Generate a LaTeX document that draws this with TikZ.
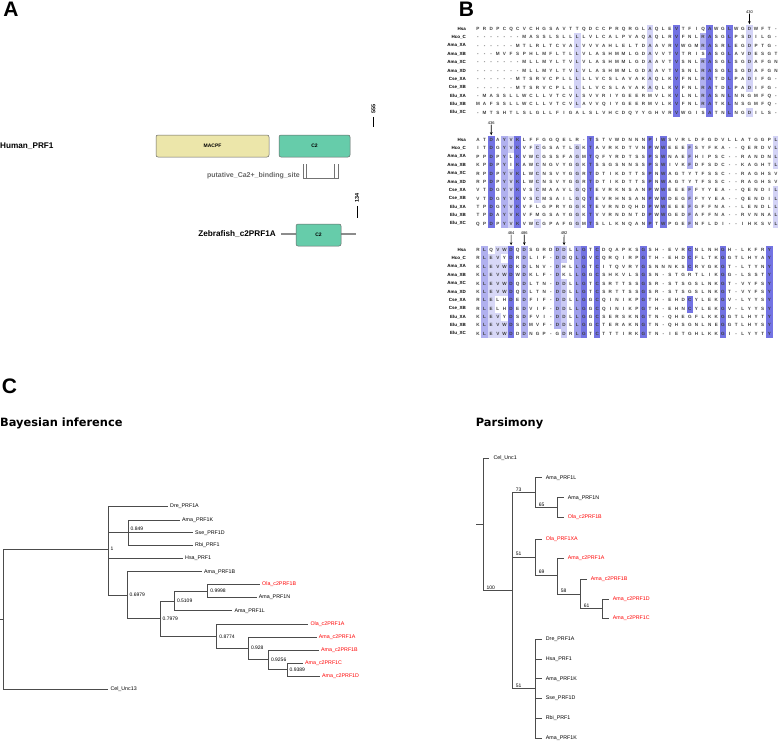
\documentclass[tikz,border=0pt]{standalone}
\usepackage{fontspec}
\setmainfont{Liberation Sans}
\newfontfamily\headfont{DejaVu Sans}
\usetikzlibrary{arrows.meta}

\definecolor{alnblue}{RGB}{80,80,220}
\definecolor{macpfcol}{RGB}{236,230,170}
\definecolor{c2col}{RGB}{102,204,170}
\definecolor{treered}{RGB}{255,0,0}

\tikzset{
  panel/.style={font=\fontsize{21}{21}\selectfont\bfseries, inner sep=0pt},
  heading/.style={font=\headfont\fontsize{11.4}{12}\selectfont\bfseries, inner sep=0pt, anchor=west},
  protname/.style={font=\fontsize{8.2}{9}\selectfont\bfseries, inner sep=0pt},
  dom/.style={draw=black!60, rounded corners=2pt, line width=0.5pt, minimum height=22pt, inner sep=0pt, font=\fontsize{5}{6}\selectfont\bfseries},
  lenlabel/.style={rotate=90, font=\fontsize{5.5}{6}\selectfont\bfseries, inner sep=0pt},
  lentick/.style={line width=0.7pt},
  site/.style={draw=black!55, line width=0.4pt},
  backbone/.style={draw=black!45, line width=2.5pt},
  rowname/.style={anchor=east, inner sep=0pt, font=\fontsize{4.5}{5}\selectfont\bfseries},
  res/.style={inner sep=0pt, text height=3.2pt, text depth=0pt, font=\fontsize{4.6}{5}\selectfont\bfseries, text=black!75},
  poslabel/.style={inner sep=0pt, font=\fontsize{4}{5}\selectfont},
  posarrow/.style={-{Stealth[length=3pt,width=2.6pt]}, line width=0.7pt},
  branch/.style={draw=black!70, line width=0.6pt},
  leafB/.style={anchor=west, inner xsep=2pt, inner ysep=0pt, font=\fontsize{5.3}{6}\selectfont},
  leafP/.style={leafB, inner xsep=4pt},
  hit/.style={text=treered},
  bsupp/.style={anchor=west, inner xsep=2.5pt, inner ysep=0pt, font=\fontsize{5}{6}\selectfont},
  psupp/.style={anchor=south west, inner xsep=3pt, inner ysep=1pt, font=\fontsize{5}{6}\selectfont},
}

% alignment helpers: \alnhl{block}{column}{residue}{shade}
\newcount\alncol
\newcommand\alnhl[4]{\expandafter\def\csname alnhl@#1@#2\endcsname{#3/#4}}
\def\hlsplit#1/#2\relax{\def\hlchar{#1}\def\hlpct{#2}}
\newcommand\alncell[1]{%
  \pgfmathsetmacro\alnx{478+6.62*(\the\alncol-1)}%
  \ifcsname alnhl@\alnblk @\the\alncol\endcsname
    \expandafter\expandafter\expandafter\hlsplit\csname alnhl@\alnblk @\the\alncol\endcsname\relax
    \if#1\hlchar
      \fill[alnblue!\hlpct] (\alnx-3.31,\alny-4.2) rectangle (\alnx+3.31,\alny+4.2);
    \fi
  \fi
  \node[res] (r\alnblk-\alnrowid-\the\alncol) at (\alnx,\alny) {#1};}
\def\alnparse#1{\ifx#1\relax\else\global\advance\alncol by 1\relax\alncell{#1}\expandafter\alnparse\fi}
\newcommand\alnrow[3]{%
  \pgfmathsetmacro\alny{\alntop+8.35*(#1-1)}%
  \def\alnrowid{#1}%
  \node[rowname] (n\alnblk-#1) at (466,\alny) {#2};
  \global\alncol=0
  \alnparse#3\relax}

\alnhl{1}{16}{L}{25}\alnhl{1}{27}{A}{25}\alnhl{1}{31}{V}{80}\alnhl{1}{35}{R}{45}
\alnhl{1}{36}{A}{80}\alnhl{1}{39}{L}{80}\alnhl{1}{42}{D}{25}
\alnhl{2}{3}{D}{80}\alnhl{2}{5}{Y}{45}\alnhl{2}{6}{V}{25}\alnhl{2}{7}{K}{80}
\alnhl{2}{10}{C}{25}\alnhl{2}{16}{G}{25}\alnhl{2}{18}{T}{80}\alnhl{2}{27}{P}{80}
\alnhl{2}{29}{W}{80}\alnhl{2}{33}{F}{45}\alnhl{2}{46}{L}{25}
\alnhl{3}{2}{L}{45}\alnhl{3}{3}{E}{22}\alnhl{3}{4}{V}{22}\alnhl{3}{5}{W}{22}
\alnhl{3}{6}{D}{80}\alnhl{3}{8}{D}{45}\alnhl{3}{13}{D}{45}\alnhl{3}{14}{D}{30}
\alnhl{3}{16}{L}{55}\alnhl{3}{17}{G}{80}\alnhl{3}{19}{C}{80}\alnhl{3}{26}{G}{80}
\alnhl{3}{33}{C}{80}\alnhl{3}{38}{G}{80}\alnhl{3}{45}{Y}{80}

\begin{document}
\begin{tikzpicture}[x=1pt,y=-1pt]
\useasboundingbox (0,0) rectangle (778,741);

% A: domain architecture
\node[panel] (panA) at (11,9.5) {A};
\node[protname, anchor=west] (hprf) at (0,146) {Human\_PRF1};
\node[dom, fill=macpfcol, minimum width=113pt] (macpf) at (212.5,146) {MACPF};
\node[dom, fill=c2col, minimum width=71pt] (hc2) at (314.5,146) {C2};
\node[lenlabel] (l555) at (373.5,109) {555};
\draw[lentick] ([yshift=-3pt]l555.west) -- ++(0,10);
\node[protname, font=\fontsize{7}{8}\selectfont\bfseries, text=black!60, anchor=east] (ca) at (300,175.5) {putative\_Ca2+\_binding\_site};
\draw[site] (303.5,164) -- (303.5,178) -- (338,178) -- (338,164);
\draw[site] (306,164) -- (306,178);
\draw[site] (334,164) -- (334,178);
\node[protname, anchor=east] (zprf) at (276,234) {Zebrafish\_c2PRF1A};
\coordinate (zfstart) at (281,234);
\coordinate (zfend) at (356,234);
\draw[backbone] (zfstart) -- (zfend);
\node[dom, fill=c2col, minimum width=45pt] (zc2) at (318.5,235) {C2};
\node[lenlabel] (l134) at (357,198) {134};
\draw[lentick] ([yshift=-3pt]l134.west) -- ++(0,12);

% B: alignment
\node[panel] (panB) at (466.5,9) {B};
\def\alnblk{1}\def\alntop{29}
\alnrow{1}{Hsa}{PRDPCQCVCHGSAVTTQDCCPRQRGLAQLEVTFIQAWGLWGDWFT-}
\alnrow{2}{Hco\_C}{-------MASSLSLLLLVLCALPVAQAQLRVFNLRASGLPSDILG-}
\alnrow{3}{Ama\_XA}{------MTLRLTCVALVVVAHLELTDAAVRVWGMRASRLEGDPTG-}
\alnrow{4}{Ama\_XB}{---MVFSPHLMFLTLLVLASHMMLGDAVVTVTRISASGLAVDESGT}
\alnrow{5}{Ama\_XC}{-------MLLMYLTVLVLASHMMLGDAAVTVSNLRASGLSGDAFGN}
\alnrow{6}{Ama\_XD}{-------MLLMYLTVLVLASHMMLGDAAVTVSNLRASGLSGDAFGN}
\alnrow{7}{Cse\_XA}{------MTSRVCPLLLLLVCSLAVAKAQLKVFNLRATDLPADIFG-}
\alnrow{8}{Cse\_XB}{------MTSRVCPLLLLLVCSLAVAKAQLKVFNLRATDLPADIFG-}
\alnrow{9}{Elu\_XA}{-MASSLLWCLLVTCVLSVVRIYGEERMVLKVLNLRASNLNNGMFQ-}
\alnrow{10}{Elu\_XB}{MAFSSLLWCLLVTCVLAVVQIYGEERMVLKVFNLRATKLNSGMFQ-}
\alnrow{11}{Elu\_XC}{-MTSHTLSLGLLFIGALSLVHCDQYYGHVRVWGISATNLNGDILS-}
\node[poslabel] (p430) at (749.4,12) {430};
\draw[posarrow] (p430.south) -- ([yshift=3pt]r1-1-42.north);

\def\alnblk{2}\def\alntop{140}
\alnrow{1}{Hsa}{ATDAYVKLFFGGQELR-TSTVWDNNNPIWSVRLDFGDVLLATGGPL}
\alnrow{2}{Hco\_C}{ITDGYVKVFCGSATLGKTAVRKDTVNPWWEEEFSYFKA--QERDVL}
\alnrow{3}{Ama\_XA}{PPDPYLKVWCGSSFAGMTQFYRDTSSPSWNAEFHIPSC--RANDNL}
\alnrow{4}{Ama\_XB}{KPDPYIKAWCNGVYGGKTSSGSNNSSPSWIVKFDFSDC--KAGHTL}
\alnrow{5}{Ama\_XC}{RPDPYVKLWCNSVYGGRTDTIKDTTSPNWAGTYTFSSC--RAGHSV}
\alnrow{6}{Ama\_XD}{RPDPYVKLWCNSVYGGRTDTIKDTTSPNWAGTYTFSSC--RAGHSV}
\alnrow{7}{Cse\_XA}{VTDGYVKVSCMAAVLGQTEVRKNSANPWWEEEFFYYEA--QENDIL}
\alnrow{8}{Cse\_XB}{VTDGYVKVSCMSAILGQTEVRHNSANPWWDEGFFYYEA--QENDIL}
\alnrow{9}{Elu\_XA}{TPDGYVKVFLGPRYGGKTEVRNDQHDPWWEEEFGFFNA--LENDLL}
\alnrow{10}{Elu\_XB}{TPDAYVKVFMGSAYGGKTVVRNDNTDPWWGEDFAFFNA--RVNNAL}
\alnrow{11}{Elu\_XC}{QPDPYVKVWCGPAFGGMTSLLKNQANPTWPGEFNFLDI--IHKSVL}
\node[poslabel] (p436) at (491.2,123) {436};
\draw[posarrow] (p436.south) -- ([yshift=3pt]r2-1-3.north);

\def\alnblk{3}\def\alntop{250}
\alnrow{1}{Hsa}{RLQVWDQDSGRDDDLLGTCDQAPKSGSH-EVRCNLNHGH-LKFRY}
\alnrow{2}{Hco\_C}{RLEVYDRDLIF-DDQLGVCQRQIRPGTH-EHDCFLTKGGTLHYAY}
\alnrow{3}{Ama\_XA}{KLEVWDKDLNV-DHLLGTCITQVRYGSNNNKSCRVGKGT-LTYNY}
\alnrow{4}{Ama\_XB}{KLEVWDWDKLF-DKLLGGCSHKVLSGSN-STGRTLIKGG-LSSTY}
\alnrow{5}{Ama\_XC}{KLEVWDQDLTN-DDLLGTCSRTTSSGSR-STSGSLNKGT-VYFSY}
\alnrow{6}{Ama\_XD}{KLEVWDQDLTN-DDLLGTCSRTTSSGSR-STSGSLNKGT-VYFSY}
\alnrow{7}{Cse\_XA}{RLELHDEDFIF-DDLLGGCQINIKPGTH-EHDCYLEKGV-LYYSY}
\alnrow{8}{Cse\_XB}{RLELHDEDVIF-DDLLGGCQINIKPGTH-EHNCYLEKGV-LYYSY}
\alnrow{9}{Elu\_XA}{KLEVYDSDFVI-DDLLGGCSERSKNGTN-QHEGFLKKGGTLHYTY}
\alnrow{10}{Elu\_XB}{KLEVWDSDMVF-DDLLGGCTERAKNGTN-QHSGNLNEGGTLHYSY}
\alnrow{11}{Elu\_XC}{KLEVWDDDNGP-GDRLGTCTTTIRKGTN-IETGHLKKGI-LYYTY}
\node[poslabel] (p484) at (511.1,233) {484};
\node[poslabel] (p486) at (524.3,233) {486};
\node[poslabel] (p492) at (564.1,233) {492};
\draw[posarrow] (p484.south) -- ([yshift=3pt]r3-1-6.north);
\draw[posarrow] (p486.south) -- ([yshift=3pt]r3-1-8.north);
\draw[posarrow] (p492.south) -- ([yshift=3pt]r3-1-14.north);

% C: trees
\node[panel] (panC) at (9.5,386) {C};
\node[heading] (hbay) at (0,423) {Bayesian inference};
\node[heading] (hpar) at (475.7,423) {Parsimony};

% Bayesian inference tree
\coordinate (bstub) at (0,619);
\coordinate (broot) at (3.5,619);
\coordinate (b1) at (108,549);
\coordinate (b849) at (128,532.7);
\coordinate (b6979) at (127,595);
\coordinate (b7979) at (160,618.3);
\coordinate (b5109) at (174.3,601);
\coordinate (b9998) at (207.7,591);
\coordinate (b8774) at (216.7,636.3);
\coordinate (b928) at (248.3,648);
\coordinate (b9256) at (268.3,659.5);
\coordinate (b9389) at (287,669.5);
\node[leafB] (bdre) at (168,506) {Dre\_PRF1A};
\node[leafB] (bamak) at (180,520) {Ama\_PRF1K};
\node[leafB] (bsse) at (193,532.7) {Sse\_PRF1D};
\node[leafB] (brbi) at (193,545) {Rbi\_PRF1};
\node[leafB] (bhsa) at (183,558) {Hsa\_PRF1};
\node[leafB] (bamab) at (202,571.7) {Ama\_PRF1B};
\node[leafB, hit] (bolec2b) at (260,584.3) {Ola\_c2PRF1B};
\node[leafB] (bamanz) at (256.7,597.3) {Ama\_PRF1N};
\node[leafB] (bamal) at (232.3,610.7) {Ama\_PRF1L};
\node[leafB, hit] (bolec2a) at (308.3,624) {Ola\_c2PRF1A};
\node[leafB, hit] (bamac2a) at (316.7,637) {Ama\_c2PRF1A};
\node[leafB, hit] (bamac2b) at (319,650) {Ama\_c2PRF1B};
\node[leafB, hit] (bamac2c) at (303,663) {Ama\_c2PRF1C};
\node[leafB, hit] (bamac2d) at (320,676) {Ama\_c2PRF1D};
\node[leafB] (bcel) at (108.3,689) {Cel\_Unc13};
\draw[branch] (bstub) -- (broot);
\foreach \p/\c in {broot/b1, broot/bcel, b1/bdre, b1/b849, b1/bhsa, b1/b6979,
    b849/bamak, b849/bsse, b849/brbi, b6979/bamab, b6979/b7979,
    b7979/b5109, b7979/b8774, b5109/b9998, b5109/bamal,
    b9998/bolec2b, b9998/bamanz, b8774/bolec2a, b8774/b928,
    b928/bamac2a, b928/b9256, b9256/bamac2b, b9256/b9389,
    b9389/bamac2c, b9389/bamac2d}
  \draw[branch] (\p) |- (\c);
\node[bsupp] (s1) at (b1) {1};
\node[bsupp, anchor=south west] (s849) at ([yshift=1.5pt]b849) {0.849};
\node[bsupp] (s6979) at (b6979) {0.6979};
\node[bsupp] (s7979) at (b7979) {0.7979};
\node[bsupp] (s5109) at (b5109) {0.5109};
\node[bsupp] (s9998) at (b9998) {0.9998};
\node[bsupp] (s8774) at (b8774) {0.8774};
\node[bsupp] (s928) at (b928) {0.928};
\node[bsupp] (s9256) at (b9256) {0.9256};
\node[bsupp] (s9389) at (b9389) {0.9389};

% Parsimony tree
\coordinate (pstub) at (476,524.3);
\coordinate (proot) at (483.3,524.3);
\coordinate (p100) at (512.7,590.5);
\coordinate (p73) at (535.7,492.6);
\coordinate (p65) at (557.7,507.5);
\coordinate (p51a) at (535.7,557);
\coordinate (p69) at (557.7,575);
\coordinate (p58) at (580.7,593.8);
\coordinate (p61) at (602.7,608.6);
\coordinate (p51b) at (535.7,688.7);
\node[leafP] (pcel) at (489.3,458.3) {Cel\_Unc1};
\node[leafP] (pamal) at (541.7,477.7) {Ama\_PRF1L};
\node[leafP] (pamanz) at (563.7,497.7) {Ama\_PRF1N};
\node[leafP, hit] (polec2b) at (563.7,517.3) {Ola\_c2PRF1B};
\node[leafP, hit] (polexa) at (541.7,539) {Ola\_PRF1XA};
\node[leafP, hit] (pamac2a) at (563.7,558.3) {Ama\_c2PRF1A};
\node[leafP, hit] (pamac2b) at (586.7,579) {Ama\_c2PRF1B};
\node[leafP, hit] (pamac2d) at (608.7,599) {Ama\_c2PRF1D};
\node[leafP, hit] (pamac2c) at (608.7,618.3) {Ama\_c2PRF1C};
\node[leafP] (pdre) at (541.7,639) {Dre\_PRF1A};
\node[leafP] (phsa) at (541.7,658.8) {Hsa\_PRF1};
\node[leafP] (pamak) at (541.7,678.7) {Ama\_PRF1K};
\node[leafP] (psse) at (541.7,698.5) {Sse\_PRF1D};
\node[leafP] (prbi) at (541.7,718.4) {Rbi\_PRF1};
\node[leafP] (pamak2) at (541.7,738.3) {Ama\_PRF1K};
\draw[branch] (pstub) -- (proot);
\foreach \p/\c in {proot/pcel, proot/p100, p100/p73, p100/p51a, p100/p51b,
    p73/pamal, p73/p65, p65/pamanz, p65/polec2b, p51a/polexa, p51a/p69,
    p69/pamac2a, p69/p58, p58/pamac2b, p58/p61, p61/pamac2d, p61/pamac2c,
    p51b/pdre, p51b/phsa, p51b/pamak, p51b/psse, p51b/prbi, p51b/pamak2}
  \draw[branch] (\p) |- (\c);
\node[psupp] (t100) at (proot |- p100) {100};
\node[psupp] (t73) at (p100 |- p73) {73};
\node[psupp] (t65) at (p73 |- p65) {65};
\node[psupp] (t51a) at (p100 |- p51a) {51};
\node[psupp] (t69) at (p51a |- p69) {69};
\node[psupp] (t58) at (p69 |- p58) {58};
\node[psupp] (t61) at (p58 |- p61) {61};
\node[psupp] (t51b) at (p100 |- p51b) {51};
\end{tikzpicture}
\end{document}
